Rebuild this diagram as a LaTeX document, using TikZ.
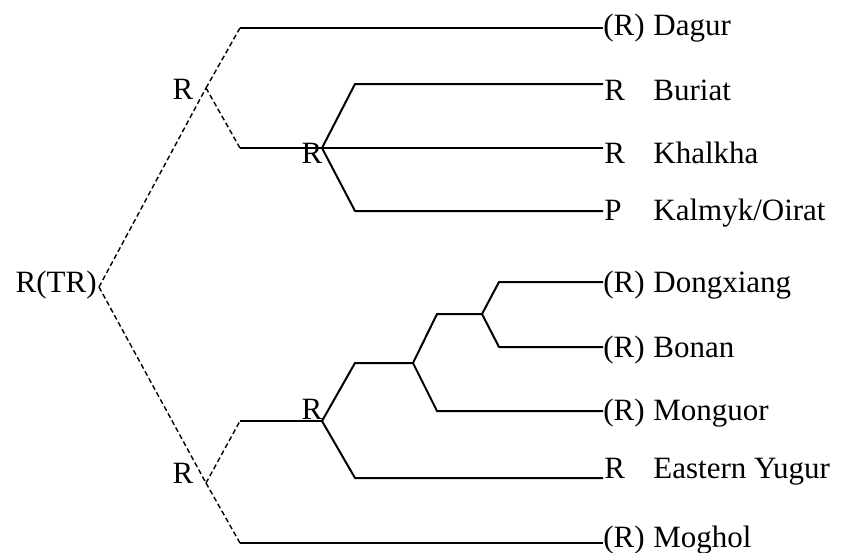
\documentclass[tikz,border=0pt]{standalone}
\usepackage{fontspec}
\setmainfont{Liberation Serif}
\usepackage{tikz}
\usetikzlibrary{positioning}

\begin{document}
\begin{tikzpicture}[
  x=0.5pt, y=-0.5pt,
  font=\fontsize{15.5}{18}\selectfont,
  br/.style={line width=1pt},
  proto/.style={line width=0.7pt, dash pattern=on 2.5pt off 1.5pt},
  tag/.style={anchor=base west, inner sep=0pt},
  rlbl/.style={anchor=base, inner sep=0pt}
]
\useasboundingbox (0,0) rectangle (841,552);
% branch points
\coordinate (root) at (99,287);
\coordinate (up) at (206,88);
\coordinate (lo) at (206,483);
\coordinate (cm) at (322,148);
\coordinate (sm) at (322,421);
\coordinate (sa) at (413,363);
\coordinate (sb) at (482,314);
% leaf ends
\coordinate (dag) at (603,28);
\coordinate (bur) at (603,84);
\coordinate (kha) at (603,148);
\coordinate (kal) at (603,211);
\coordinate (don) at (603,282);
\coordinate (bon) at (603,347);
\coordinate (mgr) at (603,411);
\coordinate (yug) at (603,478);
\coordinate (mog) at (603,543);
% reconstructed levels
\node[anchor=base east, inner sep=0pt] (rootlbl) at (97,292) {R(TR)};
\node[rlbl] (uplbl) at (183,99) {R};
\node[rlbl] (lolbl) at (183,483) {R};
\node[rlbl] (cmlbl) at (312,163) {R};
\node[rlbl] (smlbl) at (312,419) {R};
% leaves
\node[tag] (dagp) at (603,35) {(R)};
\node[tag] (burp) at (604,100) {R};
\node[tag] (khap) at (604,163) {R};
\node[tag] (kalp) at (604,220) {P};
\node[tag] (donp) at (603,292) {(R)};
\node[tag] (bonp) at (603,357) {(R)};
\node[tag] (mgrp) at (603,420) {(R)};
\node[tag] (yugp) at (604,478) {R};
\node[tag] (mogp) at (603,547) {(R)};
\node[tag] (dagn) at (653,35) {Dagur};
\node[tag] (burn) at (653,100) {Buriat};
\node[tag] (khan) at (653,163) {Khalkha};
\node[tag] (kaln) at (653,220) {Kalmyk/Oirat};
\node[tag] (donn) at (653,292) {Dongxiang};
\node[tag] (bonn) at (653,357) {Bonan};
\node[tag] (mgrn) at (653,420) {Monguor};
\node[tag] (yugn) at (653,478) {Eastern Yugur};
\node[tag] (mogn) at (653,547) {Moghol};
% dashed (reconstructed) branches
\draw[proto] (root) -- (up);
\draw[proto] (root) -- (lo);
\draw[proto] (up) -- (240,28);
\draw[proto] (up) -- (240,148);
\draw[proto] (lo) -- (240,421);
\draw[proto] (lo) -- (240,543);
% attested branches
\draw[br] (240,28) -- (dag);
\draw[br] (240,148) -- (cm) -- (kha);
\draw[br] (cm) -- (355,84) -- (bur);
\draw[br] (cm) -- (355,211) -- (kal);
\draw[br] (240,421) -- (sm);
\draw[br] (sm) -- (355,363) -- (sa);
\draw[br] (sm) -- (355,478) -- (yug);
\draw[br] (sa) -- (437,314) -- (sb);
\draw[br] (sa) -- (437,411) -- (mgr);
\draw[br] (sb) -- (499,282) -- (don);
\draw[br] (sb) -- (499,347) -- (bon);
\draw[br] (240,543) -- (mog);
\end{tikzpicture}
\end{document}
